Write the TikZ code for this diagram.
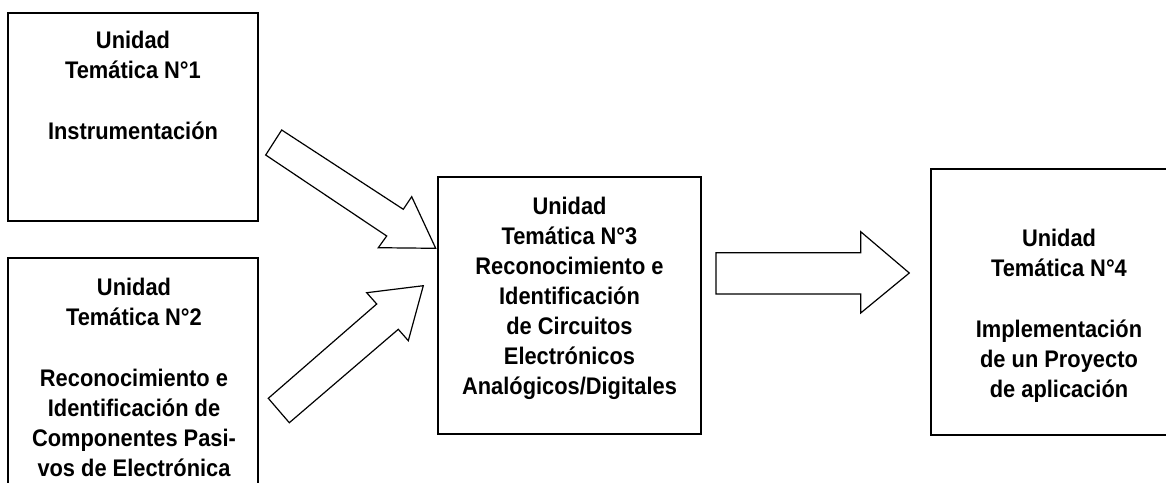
\documentclass[tikz,border=0pt]{standalone}
\usepackage{fontspec}
\setmainfont{Liberation Sans}[FakeStretch=0.91]
\begin{document}
\begin{tikzpicture}[x=1pt,y=-1pt,
  box/.style={draw=black, line width=2pt, fill=white, inner sep=0pt},
  txt/.style={align=center, anchor=north, inner sep=0pt,
    font=\fontsize{24}{30}\selectfont\bfseries},
  blockarrow/.style={draw=black, line width=1.2pt, fill=white, line join=miter}]
\useasboundingbox (0,0) rectangle (1166,482);
\clip (0,0) rectangle (1166,482);

% unit boxes
\node[box, minimum width=250pt, minimum height=208pt] (u1) at (133,117) {};
\node[box, minimum width=250pt, minimum height=252pt] (u2) at (133,384) {};
\node[box, minimum width=263pt, minimum height=257pt] (u3) at (569.5,305.5) {};
\node[box, minimum width=258pt, minimum height=266pt] (u4) at (1060,302) {};

% unit titles
\node[txt] (t1) at (133,30.8) {Unidad\\Temática N°1\\[31pt]Instrumentación};
\node[txt] (t2) at (134,277.8) {Unidad\\Temática N°2\\[31pt]Reconocimiento e\\Identificación de\\Componentes Pasi-\\vos de Electrónica};
\node[txt] (t3) at (569.5,196.8) {Unidad\\Temática N°3\\Reconocimiento e\\Identificación\\de Circuitos\\Electrónicos\\Analógicos/Digitales};
\node[txt] (t4) at (1059,228.8) {Unidad\\Temática N°4\\[31pt]Implementación\\de un Proyecto\\de aplicación};

% block arrows
\draw[blockarrow] (281.7,130) -- (403.3,209.3) -- (411.7,196.7) -- (435.7,248.3)
  -- (378.3,247.7) -- (386.7,236) -- (265.7,155) -- cycle;
\draw[blockarrow] (268.3,398.3) -- (376.7,304) -- (366.7,292.7) -- (423.3,285.7)
  -- (408.3,340.7) -- (398.3,329.3) -- (289.3,422.7) -- cycle;
\draw[blockarrow] (716,252.7) -- (860.7,252.7) -- (860.7,231.7) -- (909.3,273)
  -- (860.7,313) -- (860.7,294) -- (716,294) -- cycle;
\end{tikzpicture}
\end{document}
